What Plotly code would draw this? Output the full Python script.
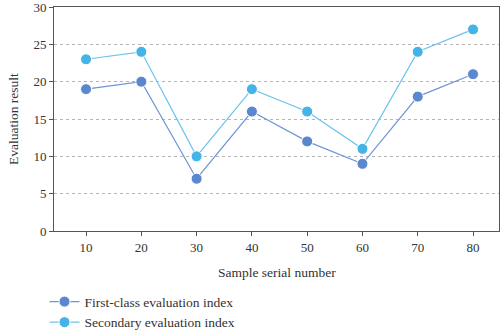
import plotly.graph_objects as go

samples = [10, 20, 30, 40, 50, 60, 70, 80]
first_class = [19, 20, 7, 16, 12, 9, 18, 21]
secondary = [23, 24, 10, 19, 16, 11, 24, 27]
series_names = ["First-class evaluation index", "Secondary evaluation index"]
y_ticks = [0, 5, 10, 15, 20, 25, 30]
x_title = "Sample serial number"
y_title = "Evaluation result"

fig = go.Figure()
fig.add_trace(go.Scatter(
    x=samples, y=first_class, name=series_names[0], mode="lines+markers",
    line=dict(color="#6f95d6", width=1.2),
    marker=dict(color="#5b87cf", size=11, line=dict(color="white", width=1)),
))
fig.add_trace(go.Scatter(
    x=samples, y=secondary, name=series_names[1], mode="lines+markers",
    line=dict(color="#6cc3ec", width=1.2),
    marker=dict(color="#45b3e6", size=11, line=dict(color="white", width=1)),
))

font_family = "Liberation Serif, Times New Roman, serif"
fig.update_layout(
    width=500, height=331,
    margin=dict(l=54, r=1, t=7, b=100, autoexpand=False),
    paper_bgcolor="white", plot_bgcolor="white",
    font=dict(family=font_family, size=13, color="#333333"),
    showlegend=True,
    legend=dict(x=0.089, y=0.135, xref="container", yref="container",
                xanchor="left", yanchor="top",
                font=dict(family=font_family, size=13.5, color="#333333"),
                tracegroupgap=0, itemwidth=30, bgcolor="rgba(0,0,0,0)"),
    xaxis=dict(
        range=[4.2, 84.7], tickvals=samples, ticks="outside", ticklen=4,
        tickcolor="#555", showline=True, linecolor="#555", linewidth=1,
        mirror=True, showgrid=False, zeroline=False, automargin=False,
        ticklabeloverflow="allow", tickfont=dict(size=13),
    ),
    yaxis=dict(
        range=[0, 30], tickvals=y_ticks, ticks="outside", ticklen=4,
        tickcolor="#555", showline=True, linecolor="#555", linewidth=1,
        mirror=True, showgrid=True, gridcolor="#b5b5b5", griddash="dot",
        gridwidth=1, zeroline=False, automargin=False,
        ticklabeloverflow="allow", tickfont=dict(size=13),
    ),
    annotations=[
        dict(text=x_title, xref="paper", yref="paper", x=0.5, y=-(272 - 231) / 224,
             xanchor="center", yanchor="middle", showarrow=False,
             font=dict(family=font_family, size=13.5, color="#333333")),
        dict(text=y_title, xref="paper", yref="paper", x=(13 - 54) / 445, y=0.5,
             xanchor="center", yanchor="middle", showarrow=False, textangle=-90,
             font=dict(family=font_family, size=13.5, color="#333333")),
    ],
)
fig.write_html("out.html")
